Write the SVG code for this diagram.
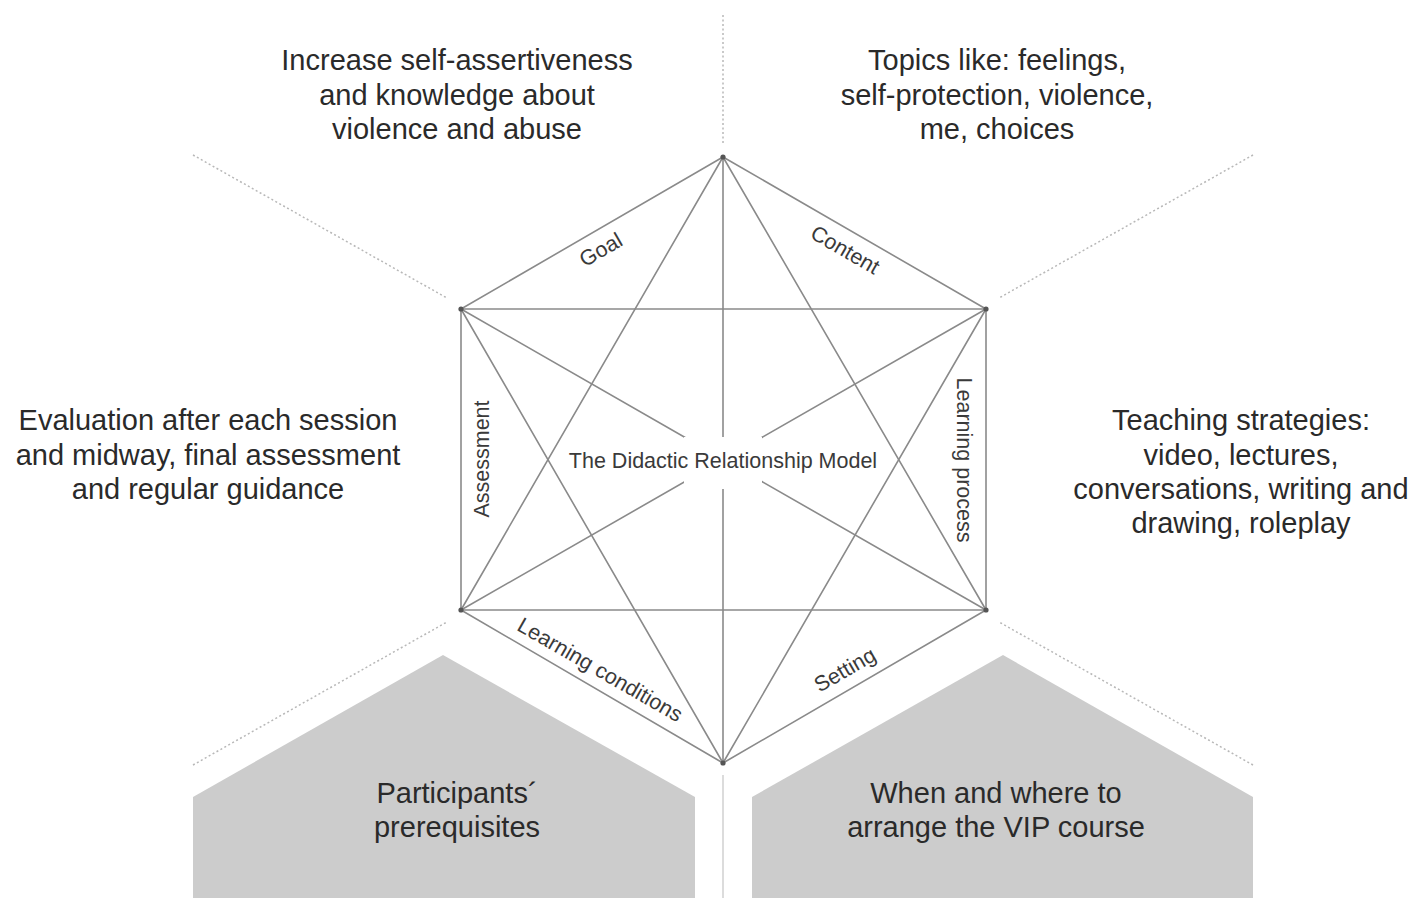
<svg xmlns="http://www.w3.org/2000/svg" width="1414" height="898" viewBox="0 0 1414 898">
  <style>
    .bg { fill: #ffffff; }
    .edge { stroke: #8a8a8a; stroke-width: 1.6; fill: none; stroke-linecap: round; }
    .guide { stroke: #b8b8b8; stroke-width: 1.5; stroke-dasharray: 2 2.5; fill: none; }
    .divider { stroke: #d0d0d0; stroke-width: 1.5; fill: none; }
    .vertex { fill: #555555; }
    .block { fill: #cccccc; }
    .big { font-family: "Liberation Sans", Arial, sans-serif; font-size: 29px; fill: #2a2a2a; text-anchor: middle; }
    .small { font-family: "Liberation Sans", Arial, sans-serif; font-size: 21.5px; fill: #3a3a3a; text-anchor: middle; dominant-baseline: central; }
  </style>

  <rect class="bg" x="0" y="0" width="1414" height="898"/>

  <!-- sector guides between the six topics -->
  <g id="guides">
    <line class="guide" x1="723" y1="15" x2="723" y2="145"/>
    <line class="guide" x1="193" y1="155" x2="447" y2="298"/>
    <line class="guide" x1="1253" y1="155" x2="999" y2="298"/>
    <line class="guide" x1="193" y1="765" x2="447" y2="622"/>
    <line class="guide" x1="1253" y1="765" x2="999" y2="622"/>
    <line class="divider" x1="723" y1="775" x2="723" y2="898"/>
  </g>

  <!-- lower grey blocks -->
  <g id="block-prerequisites">
    <polygon class="block" points="443,655 695,797 695,898 193,898 193,797"/>
    <text class="big" x="457" y="803">Participants´</text>
    <text class="big" x="457" y="837">prerequisites</text>
  </g>
  <g id="block-setting">
    <polygon class="block" points="1003,655 1253,797 1253,898 752,898 752,797"/>
    <text class="big" x="996" y="803">When and where to</text>
    <text class="big" x="996" y="837">arrange the VIP course</text>
  </g>

  <!-- all connections between the six corners -->
  <g id="connectors">
    <!-- sides -->
    <line class="edge" x1="723" y1="157" x2="461" y2="309"/>
    <line class="edge" x1="723" y1="157" x2="986" y2="309"/>
    <line class="edge" x1="986" y1="309" x2="986" y2="610"/>
    <line class="edge" x1="986" y1="610" x2="723" y2="763"/>
    <line class="edge" x1="723" y1="763" x2="461" y2="610"/>
    <line class="edge" x1="461" y1="610" x2="461" y2="309"/>
    <!-- diagonals -->
    <line class="edge" x1="461" y1="309" x2="986" y2="309"/>
    <line class="edge" x1="461" y1="610" x2="986" y2="610"/>
    <line class="edge" x1="723" y1="157" x2="461" y2="610"/>
    <line class="edge" x1="723" y1="157" x2="986" y2="610"/>
    <line class="edge" x1="723" y1="763" x2="461" y2="309"/>
    <line class="edge" x1="723" y1="763" x2="986" y2="309"/>
    <line class="edge" x1="723" y1="157" x2="723" y2="763"/>
    <line class="edge" x1="461" y1="309" x2="986" y2="610"/>
    <line class="edge" x1="986" y1="309" x2="461" y2="610"/>
  </g>

  <!-- corner dots -->
  <g id="corners">
    <circle class="vertex" cx="723" cy="157" r="2.6"/>
    <circle class="vertex" cx="461" cy="309" r="2.6"/>
    <circle class="vertex" cx="986" cy="309" r="2.6"/>
    <circle class="vertex" cx="461" cy="610" r="2.6"/>
    <circle class="vertex" cx="986" cy="610" r="2.6"/>
    <circle class="vertex" cx="723" cy="763" r="2.6"/>
  </g>

  <!-- centre title -->
  <g id="model-title">
    <rect x="684" y="437" width="78" height="52" fill="#ffffff"/>
    <text class="small" x="723" y="461" font-size="22">The Didactic Relationship Model</text>
  </g>

  <!-- side labels -->
  <g id="label-goal"><text class="small" transform="translate(601,250) rotate(-30)">Goal</text></g>
  <g id="label-content"><text class="small" transform="translate(845,250) rotate(30)">Content</text></g>
  <g id="label-learning-process"><text class="small" transform="translate(964,460) rotate(90)">Learning process</text></g>
  <g id="label-assessment"><text class="small" transform="translate(482,459) rotate(-90)">Assessment</text></g>
  <g id="label-learning-conditions"><text class="small" transform="translate(600,670) rotate(30)">Learning conditions</text></g>
  <g id="label-setting"><text class="small" transform="translate(845,670) rotate(-30)">Setting</text></g>

  <!-- outer descriptions -->
  <g id="text-goal">
    <text class="big" x="457" y="70">Increase self-assertiveness</text>
    <text class="big" x="457" y="105">and knowledge about</text>
    <text class="big" x="457" y="139">violence and abuse</text>
  </g>
  <g id="text-content">
    <text class="big" x="997" y="70">Topics like: feelings,</text>
    <text class="big" x="997" y="105">self-protection, violence,</text>
    <text class="big" x="997" y="139">me, choices</text>
  </g>
  <g id="text-assessment">
    <text class="big" x="208" y="430">Evaluation after each session</text>
    <text class="big" x="208" y="465">and midway, final assessment</text>
    <text class="big" x="208" y="499">and regular guidance</text>
  </g>
  <g id="text-learning-process">
    <text class="big" x="1241" y="430">Teaching strategies:</text>
    <text class="big" x="1241" y="465">video, lectures,</text>
    <text class="big" x="1241" y="499">conversations, writing and</text>
    <text class="big" x="1241" y="533">drawing, roleplay</text>
  </g>
</svg>
